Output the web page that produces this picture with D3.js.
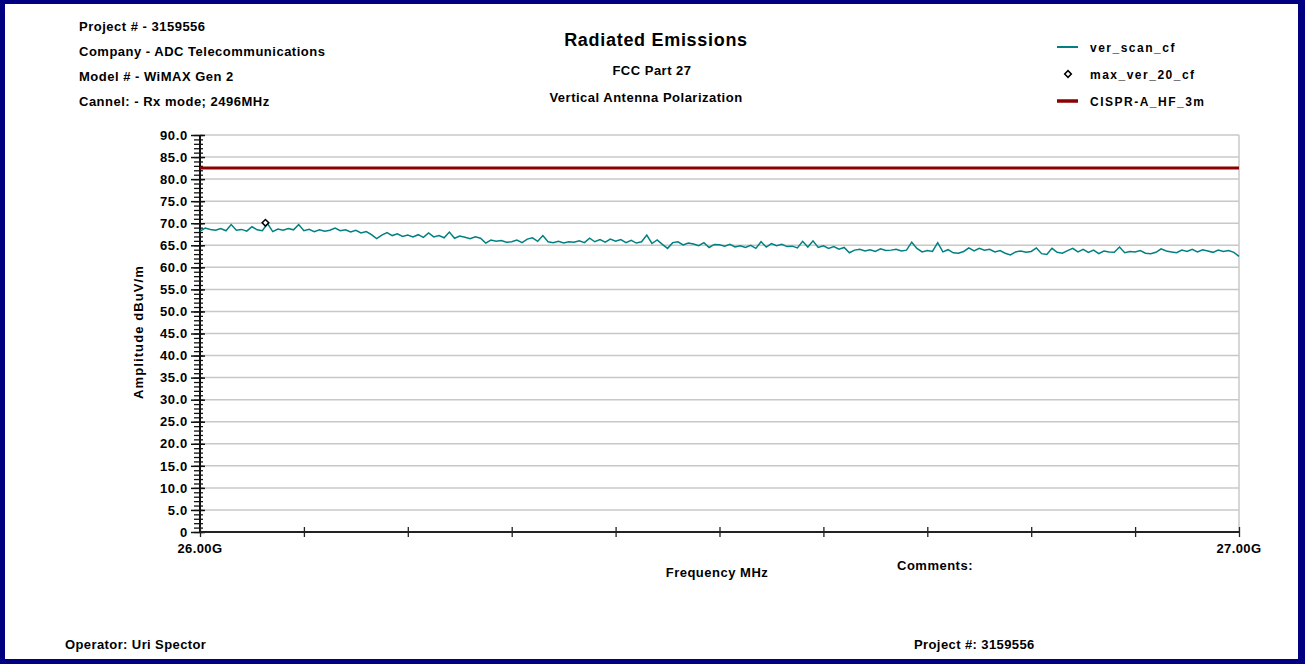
<!DOCTYPE html>
<html>
<head>
<meta charset="utf-8">
<script src="https://cdn.jsdelivr.net/npm/d3@7"></script>
<style>
  body { margin: 0; background: #000080; }
  svg { display: block; font-family: "Liberation Sans", Arial, sans-serif; font-weight: bold; }
</style>
</head>
<body>
<script>
// frequency in MHz, amplitude in dBuV/m
let freqStart = 26000, freqStep = 5
let scanValues = [
  68.2, 68.9, 68.6, 68.4, 68.8, 68.3, 69.7, 68.4, 68.6, 68.2, 69.2, 68.5, 68.3, 69.9, 68.1, 68.7, 68.4, 68.8, 68.5, 69.7,
  68.3, 68.6, 68.1, 68.5, 68.2, 68.4, 68.9, 68.3, 68.5, 68.0, 68.4, 67.8, 68.1, 67.4, 66.5, 67.3, 67.9, 67.2, 67.6, 67.0,
  67.3, 66.9, 67.4, 66.8, 67.8, 66.9, 67.2, 66.7, 68.0, 66.6, 67.1, 66.8, 66.5, 66.9, 66.6, 65.5, 66.2, 65.9, 66.1, 65.7,
  65.8, 66.2, 65.6, 66.4, 66.7, 65.9, 67.2, 65.8, 65.6, 65.9, 65.5, 65.8, 65.7, 66.0, 65.6, 66.6, 65.8, 66.3, 65.7, 66.4,
  65.9, 66.3, 65.6, 66.1, 65.5, 65.8, 67.3, 65.4, 66.2, 65.2, 64.3, 65.6, 65.8, 65.1, 65.5, 65.3, 64.9, 65.6, 64.5, 65.2,
  65.1, 64.8, 65.2, 64.6, 64.9, 64.5, 65.0, 64.3, 65.8, 64.6, 65.4, 64.9, 65.2, 64.7, 64.8, 64.4, 65.9, 64.6, 66.0, 64.5,
  64.9, 64.3, 64.7, 64.1, 64.5, 63.3, 63.9, 64.1, 63.7, 64.0, 63.6, 64.2, 63.8, 63.9, 64.1, 63.7, 63.9, 65.7, 64.3, 63.5,
  63.8, 63.6, 65.6, 63.5, 64.0, 63.3, 63.2, 63.6, 64.4, 63.7, 64.3, 63.9, 64.1, 63.5, 63.8, 63.2, 62.8, 63.5, 63.7, 63.4,
  63.6, 64.4, 63.1, 62.9, 64.3, 63.4, 63.2, 63.8, 64.3, 63.5, 64.1, 63.4, 63.9, 63.1, 63.7, 63.5, 63.4, 64.6, 63.3, 63.6,
  63.5, 63.8, 63.2, 63.1, 63.4, 64.2, 63.7, 63.5, 63.3, 63.9, 63.6, 64.1, 63.5, 64.0, 63.7, 63.4, 63.9, 63.6, 63.8, 63.4, 62.5
]
let maxPoints = [[26063, 70.1]]
let limitValue = 82.5
let yTicks = d3.range(0, 91, 5)
let xTicks = d3.range(26000, 27001, 100)
let headerLines = ["Project # - 3159556", "Company - ADC Telecommunications", "Model # - WiMAX Gen 2", "Cannel: - Rx mode; 2496MHz"]
let legendEntries = [["ver_scan_cf", "line"], ["max_ver_20_cf", "diamond"], ["CISPR-A_HF_3m", "limit"]]

let width = 1305, height = 664
let scanColor = "#008080", limitColor = "#8b0000"

let svg = d3.select("body").append("svg")
    .attr("width", width)
    .attr("height", height)

svg.append("rect")
    .attr("x", 5).attr("y", 4)
    .attr("width", 1293).attr("height", 655)
    .style("fill", "white")

let xScale = d3.scaleLinear().domain([26000, 27000]).range([200, 1239]),
    yScale = d3.scaleLinear().domain([0, 90]).range([532, 135])

function label(sel, size, spacing){
    return sel.style("font-size", size + "px").style("letter-spacing", spacing + "px")
}

// gridlines
svg.append("g")
    .selectAll("line")
    .data(yTicks.filter(d => d > 0))
    .enter()
    .append("line")
      .attr("x1", xScale(26000)).attr("x2", xScale(27000))
      .attr("y1", d => yScale(d)).attr("y2", d => yScale(d))
      .style("stroke", "#c8c8c8")
      .style("stroke-width", 1.5)

svg.append("line")
    .attr("x1", xScale(27000)).attr("x2", xScale(27000))
    .attr("y1", yScale(90)).attr("y2", yScale(0))
    .style("stroke", "#c8c8c8")
    .style("stroke-width", 1.5)

// y axis with minor ticks
let yAxis = svg.append("g")
    .attr("transform", "translate(" + xScale(26000) + ",0)")
yAxis.call(d3.axisLeft(yScale).tickValues(d3.range(0, 91, 1)).tickSize(6).tickFormat(""))
yAxis.selectAll(".tick line").attr("x2", -6).attr("x1", 3).style("stroke", "#111").style("stroke-width", 1.3)
yAxis.select(".domain").attr("d", "M0," + yScale(90) + "V" + yScale(0)).style("stroke", "#111").style("stroke-width", 2)

let yMajor = svg.append("g")
    .attr("transform", "translate(" + xScale(26000) + ",0)")
    .call(d3.axisLeft(yScale).tickValues(yTicks).tickSize(9)
      .tickFormat(d => d == 0 ? "0" : d3.format(".1f")(d)))
yMajor.select(".domain").remove()
yMajor.selectAll(".tick line").attr("x1", 5).style("stroke", "#111").style("stroke-width", 1.5)
yMajor.selectAll(".tick text")
    .attr("x", -12)
    .style("font-family", "Liberation Sans, Arial, sans-serif")
    .style("font-weight", "bold")
    .style("font-size", "13px")
    .style("letter-spacing", "0.7px")
    .style("fill", "black")

// x axis
let xAxis = svg.append("g")
    .attr("transform", "translate(0," + yScale(0) + ")")
    .call(d3.axisBottom(xScale).tickValues(xTicks).tickSize(5).tickFormat(""))
xAxis.select(".domain").attr("d", "M" + xScale(26000) + ",0H" + xScale(27000)).style("stroke", "#222").style("stroke-width", 2)
xAxis.selectAll(".tick line").attr("y1", -5).style("stroke", "#222").style("stroke-width", 1.3)

svg.append("g")
    .selectAll("text")
    .data([26000, 27000])
    .enter()
    .append("text")
      .attr("x", d => xScale(d))
      .attr("y", yScale(0) + 21)
      .attr("text-anchor", "middle")
      .call(label, 13, 0.4)
      .text(d => d3.format(".2f")(d / 1000) + "G")

// limit line
svg.append("line")
    .attr("x1", xScale(26000)).attr("x2", xScale(27000))
    .attr("y1", yScale(limitValue)).attr("y2", yScale(limitValue))
    .style("stroke", limitColor)
    .style("stroke-width", 3)

// scan line
let line = d3.line()
    .x((d, i) => xScale(freqStart + i * freqStep))
    .y(d => yScale(d))
svg.append("path")
    .datum(scanValues)
    .attr("d", line)
    .style("fill", "none")
    .style("stroke", scanColor)
    .style("stroke-width", 1.5)

let diamond = d3.symbol().type(d3.symbolSquare).size(22)
svg.append("g")
    .selectAll("path")
    .data(maxPoints)
    .enter()
    .append("path")
      .attr("d", diamond)
      .attr("transform", d => "translate(" + xScale(d[0]) + "," + yScale(d[1]) + ") rotate(45)")
      .style("fill", "white")
      .style("stroke", "black")
      .style("stroke-width", 1.5)

// header texts
svg.append("g")
    .selectAll("text")
    .data(headerLines)
    .enter()
    .append("text")
      .attr("x", 79)
      .attr("y", (d, i) => 31 + i * 25)
      .call(label, 13, 0.5)
      .text(d => d)

svg.append("text")
    .attr("x", 656).attr("y", 46)
    .attr("text-anchor", "middle")
    .call(label, 18, 0.7)
    .text("Radiated Emissions")
svg.append("text")
    .attr("x", 652).attr("y", 75)
    .attr("text-anchor", "middle")
    .call(label, 13, 0.5)
    .text("FCC Part 27")
svg.append("text")
    .attr("x", 646).attr("y", 102)
    .attr("text-anchor", "middle")
    .call(label, 13, 0.5)
    .text("Vertical Antenna Polarization")

// legend
let legend = svg.append("g")
    .selectAll("g")
    .data(legendEntries)
    .enter()
    .append("g")
      .attr("transform", (d, i) => "translate(1057," + (47 + i * 27) + ")")
legend.append("text")
    .attr("x", 33).attr("y", 4.5)
    .call(label, 12, 1.5)
    .text(d => d[0])
legend.filter(d => d[1] != "diamond")
    .append("line")
      .attr("x1", 0).attr("x2", 21)
      .style("stroke", d => d[1] == "limit" ? limitColor : scanColor)
      .style("stroke-width", d => d[1] == "limit" ? 3.5 : 2)
legend.filter(d => d[1] == "diamond")
    .append("path")
      .attr("d", diamond)
      .attr("transform", "translate(11,0) rotate(45)")
      .style("fill", "white")
      .style("stroke", "black")
      .style("stroke-width", 1.5)

// axis titles and footer
svg.append("text")
    .attr("transform", "translate(143,332) rotate(-90)")
    .attr("text-anchor", "middle")
    .call(label, 13, 1.1)
    .text("Amplitude dBuV/m")
svg.append("text")
    .attr("x", 717).attr("y", 577)
    .attr("text-anchor", "middle")
    .call(label, 13, 0.5)
    .text("Frequency MHz")
svg.append("text")
    .attr("x", 897).attr("y", 570)
    .call(label, 13, 0.5)
    .text("Comments:")
svg.append("text")
    .attr("x", 65).attr("y", 649)
    .call(label, 13, 0.4)
    .text("Operator: Uri Spector")
svg.append("text")
    .attr("x", 914).attr("y", 649)
    .call(label, 13, 0.4)
    .text("Project #: 3159556")
</script>
</body>
</html>
